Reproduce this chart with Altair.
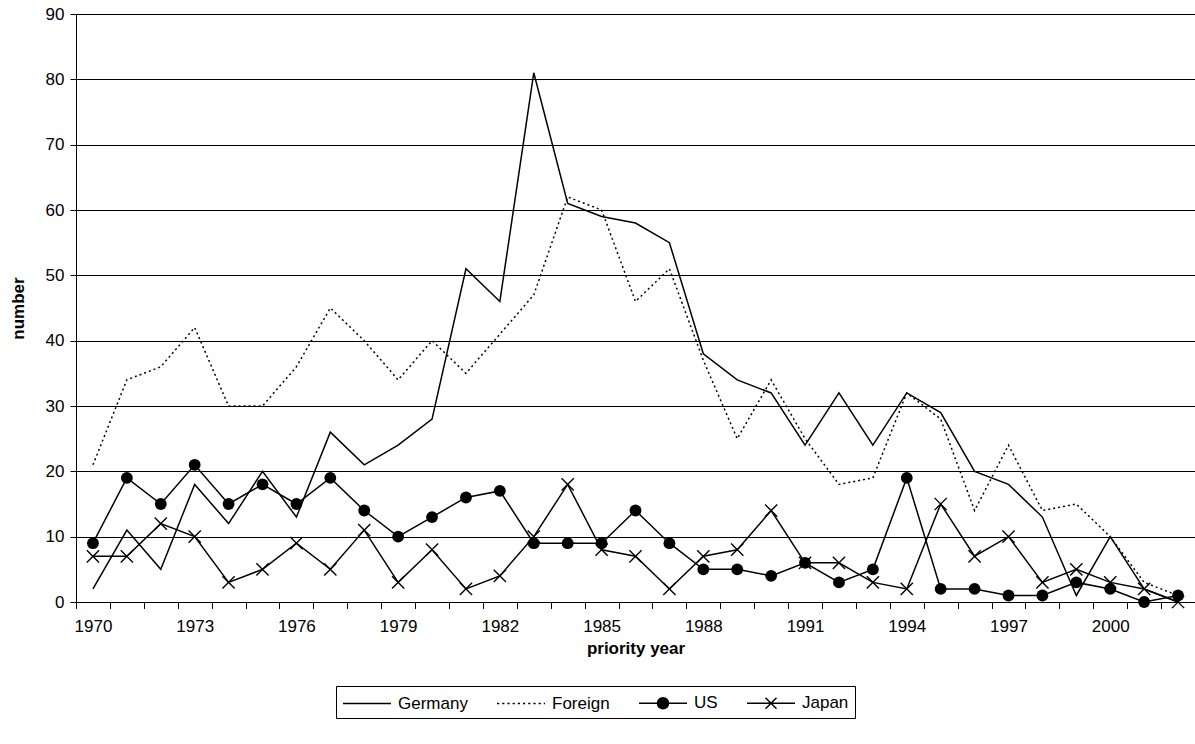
import altair as alt
import pandas as pd

years = list(range(1970, 2003))
germany = [2, 11, 5, 18, 12, 20, 13, 26, 21, 24,
           28, 51, 46, 81, 61, 59, 58, 55, 38, 34,
           32, 24, 32, 24, 32, 29, 20, 18, 13, 1,
           10, 2, 0]
foreign = [21, 34, 36, 42, 30, 30, 36, 45, 40, 34,
           40, 35, 41, 47, 62, 60, 46, 51, 37, 25,
           34, 25, 18, 19, 32, 28, 14, 24, 14, 15,
           10, 3, 1]
us = [9, 19, 15, 21, 15, 18, 15, 19, 14, 10,
      13, 16, 17, 9, 9, 9, 14, 9, 5, 5,
      4, 6, 3, 5, 19, 2, 2, 1, 1, 3,
      2, 0, 1]
japan = [7, 7, 12, 10, 3, 5, 9, 5, 11, 3,
         8, 2, 4, 10, 18, 8, 7, 2, 7, 8,
         14, 6, 6, 3, 2, 15, 7, 10, 3, 5,
         3, 2, 0]
series_names = ["Germany", "Foreign", "US", "Japan"]
label_years = list(range(1970, 2001, 3))

rows = []
for name, vals in zip(series_names, [germany, foreign, us, japan]):
    for yr, v in zip(years, vals):
        rows.append({"year": yr, "value": v, "series": name})
df = pd.DataFrame(rows)

FONT = "Liberation Sans"
FS = 17


def dashed(x0, x1, on, off):
    parts, x = [], x0
    while x < x1 - 1e-9:
        parts.append(f"M{x:.2f},0H{min(x + on, x1):.2f}")
        x += on + off
    return "".join(parts)


def disk(rmax, step):
    # solid-looking dot drawn from concentric stroked rings
    parts, r = [], step / 2
    while r <= rmax + 1e-9:
        parts.append(f"M{-r:.3f},0A{r:.3f},{r:.3f} 0 1,0 {r:.3f},0A{r:.3f},{r:.3f} 0 1,0 {-r:.3f},0")
        r += step
    return "".join(parts)


# legend symbols: line with marker (path units scaled by sqrt(400)/2 = 10 px)
L = 2.4
p_line = f"M{-L},0H{L}"
p_dash = dashed(-L, L, 0.22, 0.3)
p_circle = f"M{-L},0H{L}" + disk(0.55, 0.1)
p_x = f"M{-L},0H{L}M-0.55,-0.55L0.55,0.55M-0.55,0.55L0.55,-0.55"
legend_paths = [p_line, p_dash, p_circle, p_x]

x_ticks = [yr - 0.5 for yr in years] + [years[-1] + 0.5]
xscale = alt.Scale(domain=[years[0] - 0.5, years[-1] + 0.5], nice=False, zero=False)
yscale = alt.Scale(domain=[0, 90], nice=False)

W, H = 1119, 588

xaxis_ticks = alt.Axis(
    values=x_ticks, labels=False, grid=False, orient="bottom",
    tickSize=6, tickColor="black", domainColor="black", title=None,
)
xaxis_labels = alt.Axis(
    values=label_years, ticks=False, domain=False, grid=False, orient="bottom",
    labelFlush=False, labelOverlap=False, labelPadding=16, titlePadding=6,
    format="d",
)
yaxis = alt.Axis(
    values=list(range(0, 91, 10)),
    grid=True, gridColor="black", gridWidth=1,
    tickSize=6, tickColor="black", domainColor="black",
    labelPadding=6, titlePadding=18,
)

legend_def = alt.Legend(
    title=None,
    orient="none",
    direction="horizontal",
    legendX=260,
    legendY=672,
    strokeColor="black",
    padding=6,
    symbolSize=400,
    symbolStrokeColor="black",
    symbolStrokeWidth=1.5,
    symbolOpacity=1,
    symbolOffset=14,
    labelOffset=20,
    columnPadding=26,
    labelFont=FONT,
    labelFontSize=FS,
    labelColor="black",
)

base = alt.Chart(df)

solid = base.transform_filter(alt.datum.series != "Foreign").mark_line(
    color="black", strokeWidth=1.5
).encode(
    x=alt.X("year:Q", scale=xscale, axis=xaxis_labels, title="priority year"),
    y=alt.Y("value:Q", scale=yscale, axis=yaxis, title="number"),
    detail="series:N",
)

dotted = base.transform_filter(alt.datum.series == "Foreign").mark_line(
    color="black", strokeWidth=1.5, strokeDash=[2, 3]
).encode(x=alt.X("year:Q", axis=xaxis_ticks), y="value:Q")

us_pts = base.transform_filter(alt.datum.series == "US").mark_point(
    shape="circle", filled=True, color="black", size=140, opacity=1
).encode(x=alt.X("year:Q", axis=xaxis_ticks), y="value:Q")

jp_pts = base.transform_filter(alt.datum.series == "Japan").mark_point(
    shape="M-1,-1L1,1M-1,1L1,-1", filled=False, color="black", strokeWidth=1.4,
    size=150, opacity=1
).encode(x=alt.X("year:Q", axis=xaxis_ticks), y="value:Q")

# legend-only layer: no rows survive the filter, the legend comes from the scale domain
legend_layer = base.transform_filter(alt.datum.value < 0).mark_point(
    filled=False, color="black", strokeWidth=1.5, size=400, opacity=1
).encode(
    x=alt.X("year:Q", axis=xaxis_ticks),
    y="value:Q",
    shape=alt.Shape(
        "series:N",
        scale=alt.Scale(domain=series_names, range=legend_paths),
        legend=legend_def,
    ),
)

chart = alt.layer(solid, dotted, us_pts, jp_pts, legend_layer).resolve_axis(
    x="independent"
).properties(
    width=W,
    height=H,
    background="white",
    autosize=alt.AutoSizeParams(type="none"),
    padding={"left": 76, "top": 14, "right": 0, "bottom": 140},
).configure_view(stroke=None).configure_axis(
    labelFont=FONT, labelFontSize=FS, labelColor="black",
    titleFont=FONT, titleFontSize=FS, titleFontWeight="bold", titleColor="black",
)

chart.save("out.html", embed_options={"renderer": "svg", "actions": False})
